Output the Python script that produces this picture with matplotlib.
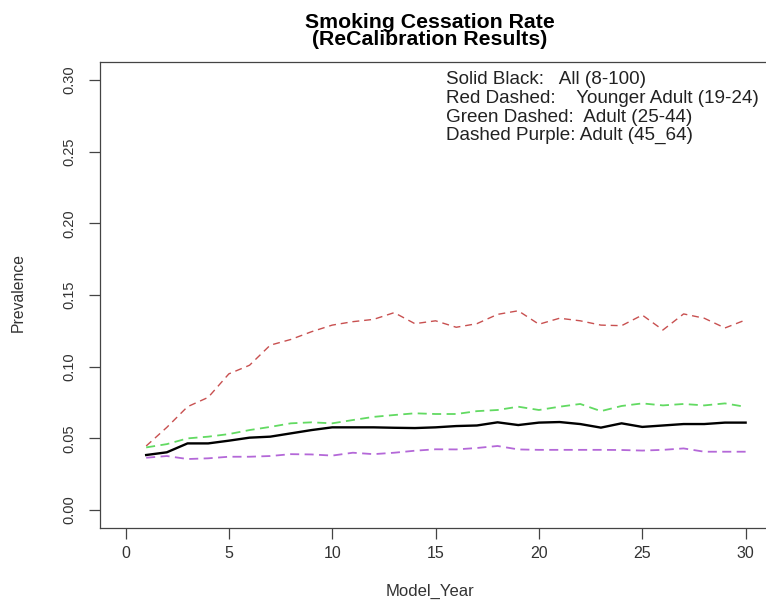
import numpy as np
import matplotlib
matplotlib.use("Agg")
import matplotlib.pyplot as plt

plt.rcParams['font.family'] = ['Liberation Sans', 'DejaVu Sans']

# values
years = np.arange(1, 31)
all_ages = [0.0384, 0.0403, 0.0465, 0.0465, 0.0484, 0.0505, 0.0512, 0.0535, 0.0558, 0.0577,
            0.0577, 0.0577, 0.0574, 0.0572, 0.0577, 0.0586, 0.0590, 0.0612, 0.0593, 0.0610,
            0.0614, 0.0600, 0.0575, 0.0605, 0.0580, 0.0590, 0.0600, 0.0600, 0.0610, 0.0610]
young_adult = [0.0447, 0.0577, 0.0721, 0.0786, 0.0950, 0.1010, 0.1150, 0.1190, 0.1244, 0.1290,
               0.1314, 0.1330, 0.1377, 0.1300, 0.1320, 0.1275, 0.1300, 0.1365, 0.1390, 0.1296,
               0.1338, 0.1320, 0.1290, 0.1286, 0.1360, 0.1256, 0.1368, 0.1338, 0.1270, 0.1326]
adult_25_44 = [0.0437, 0.0460, 0.0500, 0.0512, 0.0530, 0.0558, 0.0580, 0.0605, 0.0612, 0.0605,
               0.0628, 0.0650, 0.0663, 0.0675, 0.0670, 0.0670, 0.0690, 0.0698, 0.0721, 0.0698,
               0.0721, 0.0740, 0.0690, 0.0726, 0.0744, 0.0730, 0.0740, 0.0730, 0.0744, 0.0720]
adult_45_64 = [0.0365, 0.0377, 0.0356, 0.0361, 0.0372, 0.0372, 0.0377, 0.0390, 0.0388, 0.0380,
               0.0400, 0.0390, 0.0400, 0.0414, 0.0424, 0.0423, 0.0433, 0.0447, 0.0423, 0.0420,
               0.0420, 0.0420, 0.0420, 0.0419, 0.0415, 0.0420, 0.0430, 0.0407, 0.0407, 0.0407]

legend_lines = ["Solid Black:   All (8-100)",
                "Red Dashed:    Younger Adult (19-24)",
                "Green Dashed:  Adult (25-44)",
                "Dashed Purple: Adult (45_64)"]
xticks = [0, 5, 10, 15, 20, 25, 30]
yticks = [0.00, 0.05, 0.10, 0.15, 0.20, 0.25, 0.30]

W, H = 766, 604
fig = plt.figure(figsize=(W/100, H/100), dpi=100)
ax = fig.add_axes([100/W, 76/H, 670/W, 466/H])

ax.plot(years, young_adult, color='#C85050', lw=1.0, dashes=(5, 3.5))
ax.plot(years, adult_25_44, color='#62DA62', lw=1.3, dashes=(5, 3))
ax.plot(years, adult_45_64, color='#B468D8', lw=1.3, dashes=(5, 3))
ax.plot(years, all_ages, color='black', lw=1.7)

ax.set_xlim(-1.234, 31.18)
ax.set_ylim(-0.0125, 0.3125)
ax.set_xticks(xticks)
ax.set_xticklabels([str(t) for t in xticks])
ax.set_yticks(yticks)
ax.set_yticklabels(["%.2f" % t for t in yticks], rotation=90, va='center')

for s in ax.spines.values():
    s.set_color('#444444')
    s.set_linewidth(0.9)
ax.tick_params(axis='both', direction='out', length=8, width=0.9, color='#444444',
               labelcolor='#333333')
ax.tick_params(axis='x', pad=5, labelsize=11.5)
ax.tick_params(axis='y', pad=9, labelsize=10.5)

# note block in the upper right, one line per row
for i, line in enumerate(legend_lines):
    fig.text(446/W, 1 - (80 + 18.5*i)/H, line, ha='left', va='center',
             fontsize=13.6, color='#222222')

fig.text(430/W, 1 - 31/H, "Smoking Cessation Rate\n(ReCalibration Results)",
         ha='center', va='center', fontsize=15.3, fontweight='bold', linespacing=0.82)
fig.text(430/W, 1 - 591/H, "Model_Year", ha='center', va='center',
         fontsize=12, color='#333333')
fig.text(18/W, 1 - 293/H, "Prevalence", ha='center', va='center', rotation=90,
         fontsize=11.3, color='#333333')

fig.savefig("out.png", dpi=100)
